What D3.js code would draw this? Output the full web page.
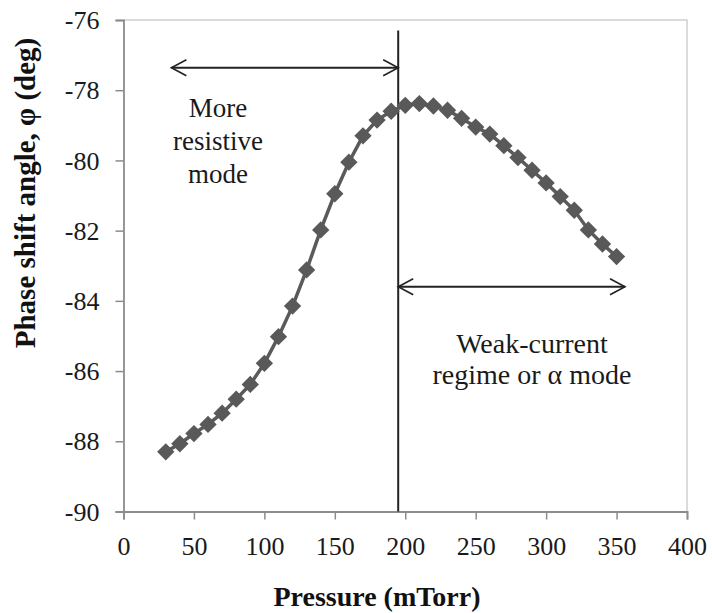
<!DOCTYPE html>
<html>
<head>
<meta charset="utf-8">
<script src="https://cdn.jsdelivr.net/npm/d3@7"></script>
</head>
<body style="margin:0">
<svg id="chart" width="712" height="613"></svg>
<script>
// Pressure sweep (mTorr) and measured phase shift angle (deg)
const pressure = [30, 40, 50, 60, 70, 80, 90, 100, 110, 120, 130, 140, 150, 160, 170, 180, 190,
                  200, 210, 220, 230, 240, 250, 260, 270, 280, 290, 300, 310, 320, 330, 340, 350];
const phase = [-88.30, -88.07, -87.78, -87.52, -87.20, -86.80, -86.38, -85.78, -85.02, -84.15,
               -83.12, -81.98, -80.95, -80.05, -79.30, -78.85, -78.60, -78.43, -78.38, -78.45,
               -78.57, -78.80, -79.05, -79.25, -79.58, -79.92, -80.28, -80.64, -81.03, -81.42,
               -81.98, -82.38, -82.74];

const xTicks = [0, 50, 100, 150, 200, 250, 300, 350, 400];
const yTicks = [-90, -88, -86, -84, -82, -80, -78, -76];

// Transition pressure between the two discharge regimes
const transitionPressure = 195;
const leftArrow = { from: 34, to: 195, level: -77.36 };
const rightArrow = { from: 195, to: 356, level: -83.6 };
const leftLabel = ["More", "resistive", "mode"];
const rightLabel = ["Weak-current", "regime or \u03b1 mode"];

const svg = d3.select("#chart");
const plotL = 123.5, plotR = 687, plotT = 20, plotB = 511.5;

const x = d3.scaleLinear().domain([0, 400]).range([plotL, plotR]);
const y = d3.scaleLinear().domain([-90, -76]).range([plotB, plotT]);

// Serif text helper
function serif(sel, size, bold) {
  sel.style("font-family", '"Liberation Serif"').attr("font-size", size);
  if (bold) sel.attr("font-weight", "bold");
  return sel;
}

// Plot frame: light top/right border
svg.append("path")
  .attr("d", `M${plotL},${plotT}H${plotR}V${plotB}`)
  .attr("fill", "none").attr("stroke", "#d0d0d0").attr("stroke-width", 1.5);

// Axes
const gx = svg.append("g").attr("transform", `translate(0,${plotB})`)
  .call(d3.axisBottom(x).tickValues(xTicks).tickSize(8).tickPadding(16).tickFormat(d3.format("d")));
const gy = svg.append("g").attr("transform", `translate(${plotL},0)`)
  .call(d3.axisLeft(y).tickValues(yTicks).tickSize(8).tickPadding(16).tickFormat(d => String(d)));

[gx, gy].forEach(g => {
  g.attr("font-family", null).attr("font-size", null);
  g.select(".domain").attr("stroke", "#8c8c8c").attr("stroke-width", 1.8);
  g.selectAll(".tick line").attr("stroke", "#8c8c8c").attr("stroke-width", 1.5);
  serif(g.selectAll(".tick text"), 26).attr("fill", "#1a1a1a");
});
gx.selectAll(".tick text").attr("dy", "0.75em");
gy.selectAll(".tick text").attr("dy", "0.33em");

// Axis titles
serif(svg.append("text"), 28, true)
  .attr("x", 377).attr("y", 606)
  .attr("text-anchor", "middle")
  .attr("fill", "#111")
  .text("Pressure (mTorr)");

serif(svg.append("text"), 29, true)
  .attr("transform", "translate(35,193) rotate(-90)")
  .attr("text-anchor", "middle")
  .attr("fill", "#111")
  .text("Phase shift angle, \u03c6 (deg)");

// Transition marker
svg.append("line")
  .attr("x1", x(transitionPressure)).attr("x2", x(transitionPressure))
  .attr("y1", y(-76.3)).attr("y2", plotB)
  .attr("stroke", "#222").attr("stroke-width", 2);

// Double-headed arrows with open chevron heads
function arrow(a) {
  const x1 = x(a.from), x2 = x(a.to), yy = y(a.level);
  const g = svg.append("g").attr("fill", "none").attr("stroke", "#222").attr("stroke-width", 1.6);
  g.append("line").attr("x1", x1).attr("x2", x2).attr("y1", yy).attr("y2", yy).attr("stroke-width", 2);
  g.append("path").attr("d", `M${x1 + 15},${yy - 8}L${x1},${yy}L${x1 + 15},${yy + 8}`);
  g.append("path").attr("d", `M${x2 - 15},${yy - 8}L${x2},${yy}L${x2 - 15},${yy + 8}`);
}
arrow(leftArrow);
arrow(rightArrow);

// Region annotations
function block(lines, cx, y0, gap, size) {
  lines.forEach((line, i) => {
    serif(svg.append("text"), size)
      .attr("x", cx).attr("y", y0 + i * gap)
      .attr("text-anchor", "middle")
      .attr("fill", "#1a1a1a")
      .text(line);
  });
}
block(leftLabel, 218, 117, 33, 27);
block(rightLabel, 532, 353, 31, 28);

// Data series: line with diamond markers
const pts = pressure.map((p, i) => [p, phase[i]]);
svg.append("path")
  .datum(pts)
  .attr("d", d3.line().x(d => x(d[0])).y(d => y(d[1])))
  .attr("fill", "none").attr("stroke", "#5a5a5a").attr("stroke-width", 3.5);

svg.append("g").selectAll("path").data(pts).join("path")
  .attr("transform", d => `translate(${x(d[0])},${y(d[1])}) rotate(45)`)
  .attr("d", d3.symbol().type(d3.symbolSquare).size(150))
  .attr("fill", "#595959");
</script>
</body>
</html>
